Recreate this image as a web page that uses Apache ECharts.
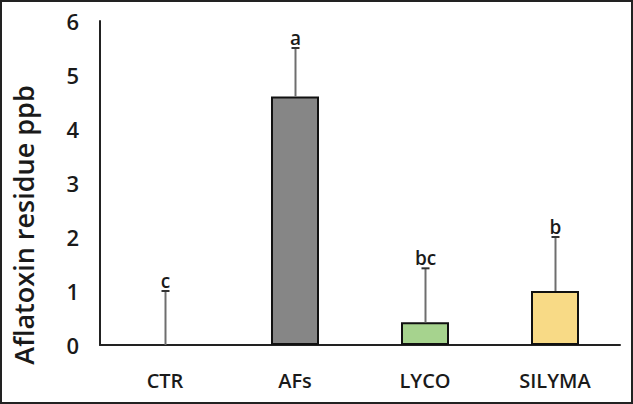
<!DOCTYPE html>
<html>
<head>
<meta charset="utf-8">
<script src="https://cdn.jsdelivr.net/npm/echarts@6/dist/echarts.min.js"></script>
<style>
  html, body { margin: 0; padding: 0; background: #fff; }
  #chart { width: 633px; height: 404px; }
</style>
</head>
<body>
<div id="chart"></div>
<script>
// 数据
var groups = ["CTR", "AFs", "LYCO", "SILYMA"];
var means = [0, 4.6, 0.42, 1.0];
var errors = [1.0, 0.9, 1.0, 1.0];
var letters = ["c", "a", "bc", "b"];
var barColors = ["#ffffff", "#868686", "#a6d38e", "#f8da86"];
var yTicks = [0, 1, 2, 3, 4, 5, 6];

var myChart = echarts.init(document.getElementById("chart"), null, { renderer: "svg" });

var option = {
  animation: false,
  grid: { left: 100, right: 13, top: 21, bottom: 59 },
  graphic: [
    {
      type: "rect",
      shape: { x: 1, y: 1, width: 631, height: 402 },
      style: { fill: "none", stroke: "#222", lineWidth: 2 },
      silent: true
    },
    {
      type: "text",
      x: 23,
      y: 225,
      rotation: Math.PI / 2,
      style: {
        text: "Aflatoxin residue ppb",
        font: "600 27px 'Open Sans'",
        fill: "#1a1a1a",
        align: "center",
        verticalAlign: "middle"
      }
    }
  ],
  xAxis: {
    type: "category",
    data: groups,
    axisLine: { lineStyle: { color: "#222", width: 2 } },
    axisTick: { show: false },
    axisLabel: {
      color: "#1a1a1a",
      fontFamily: "Open Sans",
      fontWeight: 600,
      fontSize: 20,
      margin: 25
    }
  },
  yAxis: {
    type: "value",
    min: yTicks[0],
    max: yTicks[yTicks.length - 1],
    interval: 1,
    axisLine: { show: true, lineStyle: { color: "#222", width: 2 } },
    axisTick: { show: false },
    splitLine: { show: false },
    axisLabel: {
      color: "#1a1a1a",
      fontFamily: "Open Sans",
      fontWeight: 600,
      fontSize: 22,
      margin: 21
    }
  },
  series: [
    {
      type: "bar",
      data: means.map(function (v, i) {
        return {
          value: v,
          itemStyle: {
            color: barColors[i],
            borderColor: "#111",
            borderWidth: v > 0 ? 2 : 0
          }
        };
      }),
      barWidth: 48,
      z: 2
    },
    {
      // 误差线 + 字母
      type: "custom",
      data: means.map(function (v, i) { return [i, v, v + errors[i], letters[i]]; }),
      renderItem: function (params, api) {
        var base = api.coord([api.value(0), api.value(1)]);
        var top = api.coord([api.value(0), api.value(2)]);
        var x = Math.round(base[0]) + 0.5;
        return {
          type: "group",
          children: [
            {
              type: "line",
              shape: { x1: x, y1: base[1], x2: x, y2: top[1] },
              style: { stroke: "#6e6e6e", lineWidth: 2 }
            },
            {
              type: "line",
              shape: { x1: x - 4, y1: top[1], x2: x + 4, y2: top[1] },
              style: { stroke: "#333", lineWidth: 2 }
            },
            {
              type: "text",
              x: x,
              y: top[1] - 1,
              style: {
                text: api.value(3),
                font: "600 19px 'Open Sans'",
                fill: "#1a1a1a",
                align: "center",
                verticalAlign: "bottom"
              }
            }
          ]
        };
      },
      z: 3
    }
  ]
};

myChart.setOption(option);
</script>
</body>
</html>
